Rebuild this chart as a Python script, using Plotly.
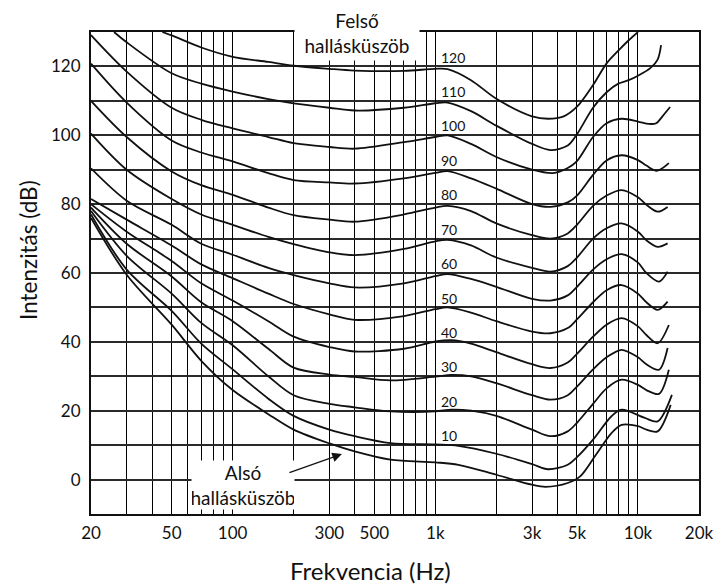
import math
import plotly.graph_objects as go

# ---------------- data ----------------
phons = [120, 110, 100, 90, 80, 70, 60, 50, 40, 30, 20, 10, 0]

freq_120 = [45, 50, 70, 100, 150, 200, 300, 400, 700, 1000, 1150, 1500, 2000, 3000, 3600, 4300, 5000, 6000, 7000, 8000, 9000, 10000]
level_120 = [130, 129, 125.5, 122.8, 121.3, 120.2, 119.3, 118.8, 118.7, 119.3, 119.2, 116, 110.6, 105.5, 104.8, 105.5, 108.3, 114.6, 120.9, 124.6, 127.6, 130]

freq_110 = [26, 30, 50, 70, 100, 150, 200, 300, 400, 700, 1000, 1150, 1500, 2000, 3000, 3700, 4500, 5000, 6000, 7000, 8000, 9000, 10000, 11500, 12500, 13000]
level_110 = [130, 127, 118, 115, 112.7, 110.5, 109.3, 108, 107.2, 108, 109.3, 109.5, 107, 102.8, 97.5, 95.7, 97, 100.3, 108, 112.5, 115, 116, 117.3, 119.5, 122, 126.2]

freq_100 = [20, 30, 50, 70, 100, 150, 200, 300, 400, 700, 1000, 1150, 1500, 2000, 3000, 3800, 4500, 5000, 6000, 7000, 8300, 10000, 11300, 12300, 13200, 14400]
level_100 = [129.1, 118.5, 108, 104.5, 102, 99.5, 97.7, 96.6, 96.1, 98, 99.5, 100, 97.5, 93.7, 90, 89, 90.5, 92.5, 99.5, 103.5, 104.8, 104, 103.3, 103.5, 105.5, 108.2]

freq_90 = [20, 30, 50, 70, 100, 150, 200, 300, 400, 700, 1000, 1150, 1500, 2000, 3000, 3700, 4500, 5000, 6000, 7000, 8300, 10000, 11000, 12400, 14200]
level_90 = [120.8, 109.5, 98.5, 95, 92.4, 89, 87, 86.3, 86, 87.5, 89.1, 89.6, 87.5, 84.5, 80, 79.2, 80.5, 82.5, 88.5, 92.7, 94.2, 92.8, 91.2, 89.7, 91.9]

freq_80 = [20, 30, 50, 70, 100, 150, 200, 300, 400, 700, 1000, 1150, 1500, 2000, 3000, 3700, 4500, 5000, 6000, 7000, 8300, 10000, 11000, 12500, 14000]
level_80 = [110, 99.5, 89.5, 85.5, 82.7, 79, 76.8, 75.5, 74.9, 77, 79, 79.5, 78, 74.4, 71, 70, 71.5, 74, 79.5, 82.5, 84.1, 82, 79.8, 77.8, 79.2]

freq_70 = [20, 30, 50, 70, 100, 150, 200, 300, 400, 700, 1000, 1150, 1500, 2000, 3000, 3700, 4500, 5000, 6000, 7000, 8300, 10000, 11000, 12500, 14000]
level_70 = [100.5, 90, 81.5, 77, 74, 70.5, 68.4, 66, 65.2, 67, 69.2, 69.6, 68, 64.5, 61.5, 60.4, 62, 64.5, 70, 73, 74.4, 72, 69.5, 67.6, 68.6]

freq_60 = [20, 30, 50, 70, 100, 150, 200, 300, 400, 700, 1000, 1150, 1500, 2000, 3000, 3700, 4500, 5000, 6000, 7000, 8300, 10000, 11000, 12700, 14000]
level_60 = [90.4, 81, 74, 68.5, 65.3, 61.5, 59.4, 57, 55.8, 57, 59.1, 59.7, 58.3, 56, 52.5, 52, 53.5, 56, 61, 64, 65.5, 63, 60, 57.5, 60.4]

freq_50 = [20, 30, 50, 70, 100, 150, 200, 300, 400, 700, 1000, 1150, 1500, 2000, 3000, 3700, 4500, 5000, 6000, 7000, 8300, 10000, 11000, 12500, 14000]
level_50 = [81.5, 75.5, 68, 62.5, 58.5, 54, 51, 48, 46.4, 47.5, 49.5, 50, 48.5, 46, 43, 42.5, 44, 46.5, 51.5, 55, 56.5, 54, 51.5, 49.3, 51.7]

freq_40 = [20, 30, 50, 70, 100, 150, 200, 300, 400, 700, 1000, 1200, 1500, 2000, 3000, 3700, 4500, 5000, 6000, 7000, 8300, 10000, 11000, 12500, 14200]
level_40 = [80, 72, 63.5, 57, 52, 46, 41.5, 38.5, 37.2, 38, 40.1, 40.5, 39.5, 37, 33.5, 32.4, 34, 36.5, 41.5, 45, 46.9, 44.5, 42, 39.6, 44.9]

freq_30 = [20, 30, 50, 70, 100, 150, 200, 300, 400, 600, 1000, 1200, 1500, 2000, 3000, 3700, 4500, 5000, 6000, 7000, 8300, 10000, 11000, 12700, 14000]
level_30 = [79, 68.5, 59, 51.5, 46, 38, 32.5, 30.5, 29.8, 28.8, 29.9, 30.4, 30, 28, 24.5, 23.2, 24.5, 27, 32, 35.5, 37.7, 35.5, 33.5, 31.9, 38.2]

freq_20 = [20, 30, 50, 70, 100, 150, 200, 300, 400, 600, 1000, 1200, 1500, 2000, 3000, 3700, 4500, 5000, 6000, 7000, 8300, 10000, 11000, 12700, 14200]
level_20 = [78, 65, 54, 45.5, 39, 30, 24.5, 22, 21, 19.8, 19.8, 20.3, 20, 18.5, 14.5, 12.6, 14, 16.5, 22, 26.5, 29, 27.5, 26, 24.9, 31.9]

freq_10 = [20, 30, 50, 70, 100, 150, 200, 300, 400, 600, 1000, 1300, 2000, 3000, 3600, 4500, 5000, 6000, 7400, 8300, 10800, 12500, 14700]
level_10 = [77, 61, 49, 39.5, 32, 23.5, 18.5, 14.5, 12.6, 10.6, 10.2, 9.8, 7.5, 4.5, 3, 4.3, 6.5, 11.6, 18.4, 20.3, 17.9, 16.9, 24.6]

freq_0 = [20, 30, 50, 70, 100, 150, 200, 300, 400, 600, 1000, 1300, 2000, 3000, 3500, 4500, 5200, 6200, 7400, 8300, 10000, 11000, 12500, 14500]
level_0 = [76, 59.5, 45, 34.5, 26, 19, 14.5, 10.5, 8.2, 5.8, 5.0, 4.3, 1.4, -1.5, -2.1, -1, 1.0, 7.2, 13.5, 15.9, 15.5, 14.5, 14, 21.7]

curve_freqs = [freq_120, freq_110, freq_100, freq_90, freq_80, freq_70, freq_60,
               freq_50, freq_40, freq_30, freq_20, freq_10, freq_0]
curve_levels = [level_120, level_110, level_100, level_90, level_80, level_70, level_60,
                level_50, level_40, level_30, level_20, level_10, level_0]

curve_labels = ["120", "110", "100", "90", "80", "70", "60", "50", "40", "30", "20", "10"]
label_freq = 1040

x_tick_vals = [20, 50, 100, 300, 500, 1000, 3000, 5000, 10000, 20000]
x_tick_text = ["20", "50", "100", "300", "500", "1k", "3k", "5k", "10k", "20k"]
x_minor_vals = [30, 40, 60, 70, 80, 90, 200, 400, 600, 700, 800, 900,
                2000, 4000, 6000, 7000, 8000, 9000]
y_tick_vals = [0, 20, 40, 60, 80, 100, 120]

upper_text = "Felső<br>hallásküszöb"
lower_text = "Alsó<br>hallásküszöb"
x_title = "Frekvencia (Hz)"
y_title = "Intenzitás (dB)"

# ---------------- figure ----------------
FONT = "Lato"
INK = "#111111"
fig = go.Figure()

for f, lv, ph in zip(curve_freqs, curve_levels, phons):
    fig.add_trace(go.Scatter(
        x=f, y=lv, mode="lines", name=str(ph),
        line=dict(color=INK, width=1.8, shape="spline", smoothing=0.9),
        hoverinfo="skip", cliponaxis=True,
    ))

for txt in curve_labels:
    fig.add_annotation(
        x=math.log10(label_freq), y=int(txt) + 2.7, xref="x", yref="y",
        text=txt, showarrow=False, xanchor="left", yanchor="middle",
        font=dict(family=FONT, size=14, color=INK),
    )

fig.add_annotation(
    x=math.log10(411), y=129.8, xref="x", yref="y",
    text=upper_text, showarrow=False, xanchor="center", yanchor="middle",
    align="center", bgcolor="white", borderpad=3, width=118,
    font=dict(family=FONT, size=19, color=INK),
)
fig.add_annotation(
    x=math.log10(113), y=-1.5, xref="x", yref="y",
    text=lower_text, showarrow=False, xanchor="center", yanchor="middle",
    align="center", bgcolor="white", borderpad=0, width=102,
    font=dict(family=FONT, size=19, color=INK),
)
fig.add_annotation(
    x=math.log10(346), y=7.4, xref="x", yref="y",
    text="", showarrow=True, ax=-54, ay=19,
    arrowhead=2, arrowsize=1.6, arrowwidth=1.2, arrowcolor=INK,
)

# axis titles as paper annotations (placed where the reference has them)
fig.add_annotation(
    x=(370 - 91) / 608, y=(514 - 570) / 482, xref="paper", yref="paper",
    text=x_title, showarrow=False, xanchor="center", yanchor="middle",
    font=dict(family=FONT, size=24, color=INK),
)
fig.add_annotation(
    x=(29 - 91) / 608, y=(514 - 250) / 482, xref="paper", yref="paper",
    text=y_title, showarrow=False, textangle=-90,
    xanchor="center", yanchor="middle",
    font=dict(family=FONT, size=22.5, color=INK),
)

fig.update_xaxes(
    type="log", range=[math.log10(20), math.log10(20000)],
    tickmode="array", tickvals=x_tick_vals, ticktext=x_tick_text,
    showgrid=True, gridcolor="#000000", gridwidth=1,
    minor=dict(tickmode="array", tickvals=x_minor_vals, showgrid=True,
               gridcolor="#000000", gridwidth=1, ticks=""),
    showline=True, linecolor=INK, linewidth=2, mirror=True,
    ticks="", ticklabelstandoff=3, automargin=False,
    tickfont=dict(family=FONT, size=17, color=INK),
    zeroline=False,
)
fig.update_yaxes(
    range=[-10, 130], tickmode="array", tickvals=y_tick_vals,
    showgrid=True, gridcolor="#2a2a2a", gridwidth=1.5,
    minor=dict(dtick=10, tick0=0, showgrid=True, gridcolor="#2a2a2a", gridwidth=1.5, ticks=""),
    showline=True, linecolor=INK, linewidth=2, mirror=True,
    ticks="", ticklabelstandoff=5, automargin=False,
    tickfont=dict(family=FONT, size=17, color=INK),
    zeroline=False,
)

fig.update_layout(
    width=726, height=585,
    margin=dict(l=91, r=27, t=32, b=71, autoexpand=False),
    plot_bgcolor="white", paper_bgcolor="white",
    showlegend=False,
)

fig.write_html(
    "out.html",
    config={"displayModeBar": False},
    post_script="document.body.style.margin='0px'; document.body.style.overflow='hidden';",
)
